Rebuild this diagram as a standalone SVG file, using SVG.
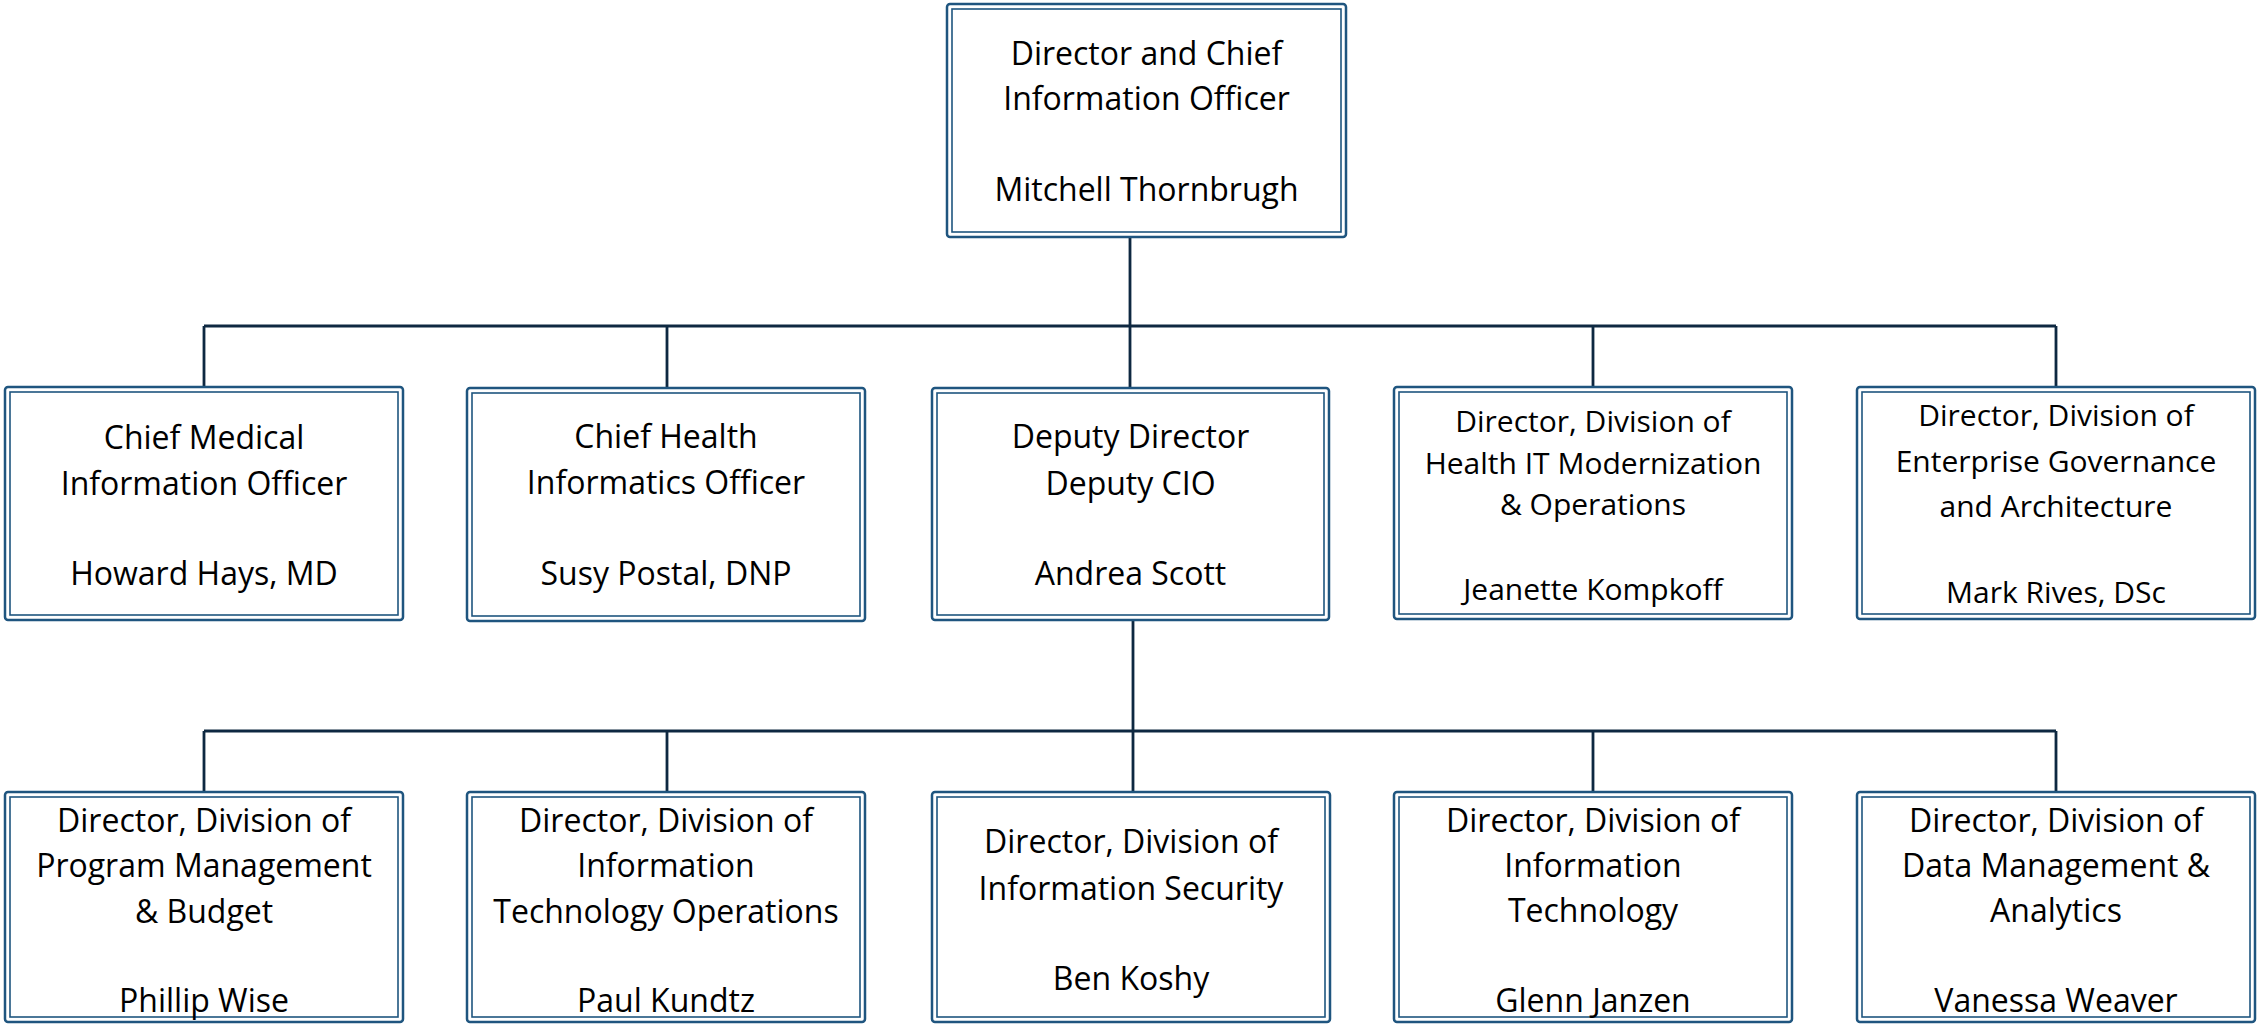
<svg xmlns="http://www.w3.org/2000/svg" width="2257" height="1025" viewBox="0 0 2257 1025">
<style>
.o{fill:#ffffff;stroke:#1f557f;stroke-width:2.5}
.i{fill:none;stroke:#1f557f;stroke-width:1.6}
.c{fill:none;stroke:#0e2841;stroke-width:2.8}
text{font-family:"Open Sans","Noto Sans",sans-serif;font-size:32px;fill:#000;text-anchor:middle}
.s{font-size:30px}
</style>
<rect width="2257" height="1025" fill="#ffffff"/>
<g id="connectors">
<path class="c" d="M1130,237 V387 M204,326 H2056 M204,326 V387 M667,326 V388 M1593,326 V387 M2056,326 V387"/>
<path class="c" d="M1133,620 V792 M204,731 H2056 M204,731 V792 M667,731 V792 M1593,731 V792 M2056,731 V792"/>
</g>
<g id="cio">
<rect class="o" x="947" y="4" width="399" height="233" rx="3"/>
<rect class="i" x="952" y="9" width="389" height="223"/>
<text x="1146.5" y="65">Director and Chief</text>
<text x="1146.5" y="110">Information Officer</text>
<text x="1146.5" y="201">Mitchell Thornbrugh</text>
</g>
<g id="cmio">
<rect class="o" x="5" y="387" width="398" height="233" rx="3"/>
<rect class="i" x="10" y="392" width="388" height="223"/>
<text x="204" y="449">Chief Medical</text>
<text x="204" y="495">Information Officer</text>
<text x="204" y="585">Howard Hays, MD</text>
</g>
<g id="chio">
<rect class="o" x="467" y="388" width="398" height="233" rx="3"/>
<rect class="i" x="472" y="393" width="388" height="223"/>
<text x="666" y="448">Chief Health</text>
<text x="666" y="494">Informatics Officer</text>
<text x="666" y="585">Susy Postal, DNP</text>
</g>
<g id="deputy">
<rect class="o" x="932" y="388" width="397" height="232" rx="3"/>
<rect class="i" x="937" y="393" width="387" height="222"/>
<text x="1130.5" y="448">Deputy Director</text>
<text x="1130.5" y="495">Deputy CIO</text>
<text x="1130.5" y="585">Andrea Scott</text>
</g>
<g id="himo">
<rect class="o" x="1394" y="387" width="398" height="232" rx="3"/>
<rect class="i" x="1399" y="392" width="388" height="222"/>
<text class="s" x="1593" y="432">Director, Division of</text>
<text class="s" x="1593" y="474">Health IT Modernization</text>
<text class="s" x="1593" y="515">&amp; Operations</text>
<text class="s" x="1593" y="600">Jeanette Kompkoff</text>
</g>
<g id="ega">
<rect class="o" x="1857" y="387" width="398" height="232" rx="3"/>
<rect class="i" x="1862" y="392" width="388" height="222"/>
<text class="s" x="2056" y="426">Director, Division of</text>
<text class="s" x="2056" y="472">Enterprise Governance</text>
<text class="s" x="2056" y="517">and Architecture</text>
<text class="s" x="2056" y="603">Mark Rives, DSc</text>
</g>
<g id="pmb">
<rect class="o" x="5" y="792" width="398" height="230" rx="3"/>
<rect class="i" x="10" y="797" width="388" height="220"/>
<text x="204" y="832">Director, Division of</text>
<text x="204" y="877">Program Management</text>
<text x="204" y="923">&amp; Budget</text>
<text x="204" y="1012">Phillip Wise</text>
</g>
<g id="ito">
<rect class="o" x="467" y="792" width="398" height="230" rx="3"/>
<rect class="i" x="472" y="797" width="388" height="220"/>
<text x="666" y="832">Director, Division of</text>
<text x="666" y="877">Information</text>
<text x="666" y="923">Technology Operations</text>
<text x="666" y="1012">Paul Kundtz</text>
</g>
<g id="infosec">
<rect class="o" x="932" y="792" width="398" height="230" rx="3"/>
<rect class="i" x="937" y="797" width="388" height="220"/>
<text x="1131" y="853">Director, Division of</text>
<text x="1131" y="900">Information Security</text>
<text x="1131" y="990">Ben Koshy</text>
</g>
<g id="it">
<rect class="o" x="1394" y="792" width="398" height="230" rx="3"/>
<rect class="i" x="1399" y="797" width="388" height="220"/>
<text x="1593" y="832">Director, Division of</text>
<text x="1593" y="877">Information</text>
<text x="1593" y="922">Technology</text>
<text x="1593" y="1012">Glenn Janzen</text>
</g>
<g id="dma">
<rect class="o" x="1857" y="792" width="398" height="230" rx="3"/>
<rect class="i" x="1862" y="797" width="388" height="220"/>
<text x="2056" y="832">Director, Division of</text>
<text x="2056" y="877">Data Management &amp;</text>
<text x="2056" y="922">Analytics</text>
<text x="2056" y="1012">Vanessa Weaver</text>
</g>
</svg>
